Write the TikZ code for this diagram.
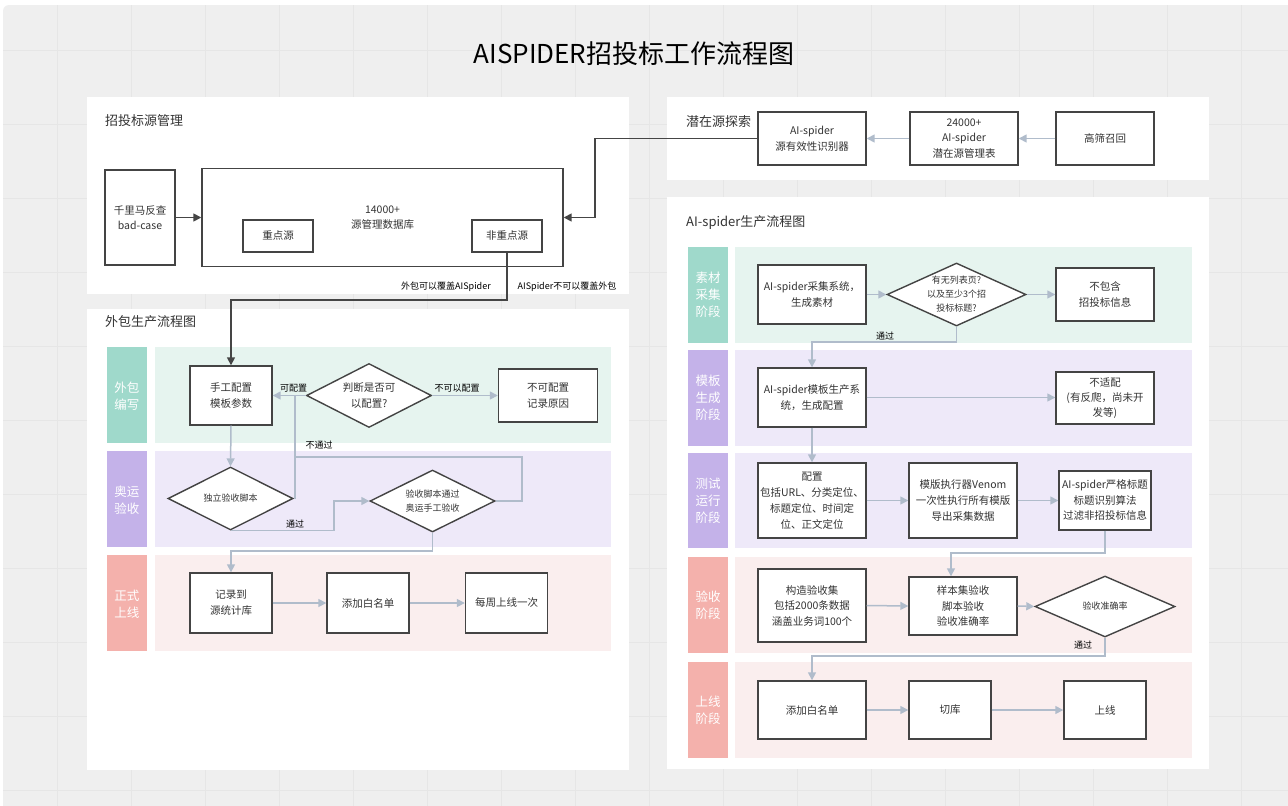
\documentclass[tikz,border=0pt]{standalone}
\usepackage{fontspec}
\setmainfont{Noto Sans CJK SC}
\usetikzlibrary{arrows.meta,shapes.geometric}
\definecolor{canvas}{HTML}{EFEFEF}
\definecolor{gridc}{HTML}{E6E6E6}
\definecolor{boxline}{HTML}{444444}
\definecolor{connc}{HTML}{B0BCCB}
\definecolor{darkc}{HTML}{454545}
\definecolor{tealL}{HTML}{9FD9CB}
\definecolor{tealB}{HTML}{E6F4EF}
\definecolor{purL}{HTML}{C4B2E9}
\definecolor{purB}{HTML}{EEE9F9}
\definecolor{pinkL}{HTML}{F4B1AC}
\definecolor{pinkB}{HTML}{FAEEEE}
\definecolor{txt}{HTML}{333333}
\newcommand\fsz[2]{\fontsize{#1}{#2}\selectfont}
\begin{document}
\begin{tikzpicture}[x=1pt,y=-1pt,
  box/.style={draw=boxline, line width=1.4pt, fill=white, align=center, inner sep=0pt, font=\fsz{10.5}{16}, text=txt},
  sz/.style 2 args={minimum width=#1, minimum height=#2},
  dia/.style={diamond, draw=boxline, line width=1.4pt, fill=white, inner sep=0pt},
  dtext/.style={align=center, font=\fsz{9}{14}, text=txt},
  dtextb/.style={align=center, font=\fsz{10.5}{16}, text=txt},
  lanelab/.style={align=center, inner sep=0pt, text=white, font=\fsz{12.5}{17}},
  laneb/.style={inner sep=0pt},
  panel/.style={fill=white},
  ptitle/.style={anchor=west, font=\fsz{13}{15}, text=txt, inner sep=0pt},
  conn/.style={draw=connc, line width=1.5pt, -{Triangle[length=8pt,width=8pt]}},
  connl/.style={draw=connc, line width=1.5pt},
  dconn/.style={draw=darkc, line width=1.6pt, -{Triangle[length=8pt,width=8pt]}},
  lab/.style={font=\fsz{9}{11}, text=black, inner sep=0pt}
]
\useasboundingbox (0,0) rectangle (1288,806);
\fill[white] (0,0) rectangle (1288,806);
\fill[canvas, rounded corners=6pt] (3,5) rectangle (1310,830);
\foreach \gx in {57,131,...,1288} \draw[gridc, line width=0.9pt] (\gx,5) -- (\gx,806);
\foreach \gy in {50,124,...,806} \draw[gridc, line width=0.9pt] (3,\gy) -- (1288,\gy);

% title
\node[font=\fsz{26}{30}, text=black, inner sep=0pt] (title) at (634,54) {AISPIDER招投标工作流程图};

% panels
\fill[panel] (87,97) rectangle (629,294);
\fill[panel] (87,309) rectangle (629,770);
\fill[panel] (667,97) rectangle (1209,180);
\fill[panel] (667,197) rectangle (1209,769);

\node[ptitle] (pt1) at (105,121) {招投标源管理};
\node[ptitle] (pt2) at (105,322) {外包生产流程图};
\node[ptitle] (pt3) at (686,122) {潜在源探索};
\node[ptitle] (pt4) at (686,223) {AI-spider生产流程图};

% left lanes
\node[laneb, fill=tealL, sz={40.5pt}{96pt}] (LL1) at (126.75,395) {};
\node[laneb, fill=purL, sz={40.5pt}{96pt}] (LL2) at (126.75,499) {};
\node[laneb, fill=pinkL, sz={40.5pt}{96pt}] (LL3) at (126.75,603) {};
\node[laneb, fill=tealB, sz={456pt}{96pt}] (LB1) at (382.5,395) {};
\node[laneb, fill=purB, sz={456pt}{96pt}] (LB2) at (382.5,499) {};
\node[laneb, fill=pinkB, sz={456pt}{96pt}] (LB3) at (382.5,603) {};
\node[lanelab] (LT1) at (126.75,396) {外包\\编写};
\node[lanelab] (LT2) at (126.75,500) {奥运\\验收};
\node[lanelab] (LT3) at (126.75,604) {正式\\上线};

% right lanes
\node[laneb, fill=tealL, sz={40pt}{96pt}] (RL1) at (708,295) {};
\node[laneb, fill=purL, sz={40pt}{96pt}] (RL2) at (708,398) {};
\node[laneb, fill=purL, sz={40pt}{95pt}] (RL3) at (708,500.5) {};
\node[laneb, fill=pinkL, sz={40pt}{96pt}] (RL4) at (708,605) {};
\node[laneb, fill=pinkL, sz={40pt}{96pt}] (RL5) at (708,710) {};
\node[laneb, fill=tealB, sz={457pt}{96pt}] (RB1) at (963.5,295) {};
\node[laneb, fill=purB, sz={457pt}{96pt}] (RB2) at (963.5,398) {};
\node[laneb, fill=purB, sz={457pt}{95pt}] (RB3) at (963.5,500.5) {};
\node[laneb, fill=pinkB, sz={457pt}{96pt}] (RB4) at (963.5,605) {};
\node[laneb, fill=pinkB, sz={457pt}{96pt}] (RB5) at (963.5,710) {};
\node[lanelab] (RT1) at (708,295) {素材\\采集\\阶段};
\node[lanelab] (RT2) at (708,398) {模板\\生成\\阶段};
\node[lanelab] (RT3) at (708,500.5) {测试\\运行\\阶段};
\node[lanelab] (RT4) at (708,605) {验收\\阶段};
\node[lanelab] (RT5) at (708,710) {上线\\阶段};

% ---- left top nodes
\node[box, sz={70pt}{95pt}, font=\fsz{10.5}{15}] (qlm) at (140,217.5) {千里马反查\\bad-case};
\node[box, sz={361pt}{98pt}, font=\fsz{10.5}{15}, fill=white] (db) at (382.5,217.5) {14000+\\源管理数据库};
\node[box, sz={70pt}{32pt}] (kz) at (278,236) {重点源};
\node[box, sz={70pt}{32pt}] (fkz) at (507,236) {非重点源};

% ---- right top nodes
\node[box, sz={108pt}{53pt}] (v1) at (812,138.5) {AI-spider\\源有效性识别器};
\node[box, sz={108pt}{53pt}, font=\fsz{10.5}{15.5}] (v2) at (964,138.5) {24000+\\AI-spider\\潜在源管理表};
\node[box, sz={98pt}{53pt}] (v3) at (1105,138.5) {高筛召回};

% ---- left flow nodes
\node[box, sz={82pt}{59pt}] (sg) at (231,395.5) {手工配置\\模板参数};
\node[dia, sz={125pt}{64pt}, label={[dtextb]center:{判断是否可\\以配置?}}] (pd) at (369,395.5) {};
\node[box, sz={99pt}{53pt}] (bk) at (548,395.5) {不可配置\\记录原因};
\node[dia, sz={125pt}{63pt}, label={[dtext]center:{独立验收脚本}}] (dl) at (230.5,498.5) {};
\node[dia, sz={125pt}{62pt}, label={[dtext]center:{验收脚本通过\\奥运手工验收}}] (ys) at (432.5,501) {};
\node[box, sz={82pt}{60pt}] (jl) at (231,603) {记录到\\源统计库};
\node[box, sz={82pt}{60pt}] (tj) at (368,603) {添加白名单};
\node[box, sz={82pt}{60pt}] (mz) at (506.5,603) {每周上线一次};

% ---- right flow nodes
\node[box, sz={108pt}{59pt}] (r1) at (812,294.5) {AI-spider采集系统，\\生成素材};
\node[dia, sz={139pt}{63pt}, label={[dtext]center:{有无列表页?\\以及至少3个招\\投标标题?}}] (rd1) at (956.5,294.5) {};
\node[box, sz={98pt}{53pt}] (r2) at (1105,294.5) {不包含\\招投标信息};
\node[box, sz={108pt}{59pt}] (r3) at (812,397.5) {AI-spider模板生产系\\统，生成配置};
\node[box, sz={98pt}{52pt}, font=\fsz{10.5}{15}] (r4) at (1105,398) {不适配\\(有反爬，尚未开\\发等)};
\node[box, sz={108pt}{75pt}] (r5) at (812,500.5) {配置\\包括URL、分类定位、\\标题定位、时间定\\位、正文定位};
\node[box, sz={108pt}{75pt}] (r6) at (963,500.5) {模版执行器Venom\\一次性执行所有模版\\导出采集数据};
\node[box, sz={92pt}{59pt}, font=\fsz{10.5}{15.5}] (r7) at (1105,500.5) {AI-spider严格标题\\标题识别算法\\过滤非招投标信息};
\node[box, sz={108pt}{73pt}, font=\fsz{10.5}{15.5}] (r8) at (812,605.5) {构造验收集\\包括2000条数据\\涵盖业务词100个};
\node[box, sz={108pt}{58pt}, font=\fsz{10.5}{15.5}] (r9) at (963,606) {样本集验收\\脚本验收\\验收准确率};
\node[dia, sz={140pt}{61pt}, label={[dtext]center:{验收准确率}}] (rd2) at (1105,606.5) {};
\node[box, sz={108pt}{58pt}] (r10) at (812,710) {添加白名单};
\node[box, sz={82pt}{58pt}] (r11) at (950,710) {切库};
\node[box, sz={82pt}{58pt}] (r12) at (1105,710) {上线};

% ---- coordinates
\coordinate (t1) at (595,138.5);
\coordinate (t2) at (507,300);
\coordinate (j1) at (295,395.5);
\coordinate (j2a) at (522,501);
\coordinate (j2b) at (522,457);
\coordinate (j2c) at (295,457);
\coordinate (j3) at (334,501);
\coordinate (j4) at (432.5,551);
\coordinate (k0) at (956.5,342);
\coordinate (k1) at (951,553);
\coordinate (k2) at (1105,656);

% ---- dark connectors
\draw[dconn] (qlm.east) -- (db.west);
\draw[dconn] (v1.west) -- (t1) |- (db.east);
\draw[dconn] (fkz.south) -- (t2) -| (sg.north);
\node[lab] (la1) at (446,287) {外包可以覆盖AISpider};
\node[lab] (la2) at (567,287) {AISpider不可以覆盖外包};

% ---- light connectors right top
\draw[conn] (v3.west) -- (v2.east);
\draw[conn] (v2.west) -- (v1.east);

% ---- left flow connectors
\draw[conn] (pd.west) -- (sg.east);
\draw[conn] (pd.east) -- (bk.west);
\draw[conn] (sg.south) -- (dl.north);
\draw[connl] (dl.east) -| (j1);
\draw[connl] (ys.east) -- (j2a) -- (j2b) -- (j2c);
\draw[conn] (dl.south) -| (j3) -- (ys.west);
\draw[conn] (ys.south) -- (j4) -| (jl.north);
\draw[conn] (jl.east) -- (tj.west);
\draw[conn] (tj.east) -- (mz.west);
\node[lab] (lb1) at (293.5,388) {可配置};
\node[lab] (lb2) at (457,388) {不可以配置};
\node[lab] (lb3) at (319,445) {不通过};
\node[lab] (lb4) at (295,524) {通过};

% ---- right flow connectors
\draw[conn] (r1.east) -- (rd1.west);
\draw[conn] (rd1.east) -- (r2.west);
\draw[conn] (rd1.south) -- (k0) -| (r3.north);
\draw[conn] (r3.east) -- (r3.east -| r4.west);
\draw[conn] (r3.south) -- (r5.north);
\draw[conn] (r5.east) -- (r6.west);
\draw[conn] (r6.east) -- (r7.west);
\draw[conn] (r7.south) |- (k1) -- (k1 |- r9.north);
\draw[conn] (r8.east) -- (r9.west);
\draw[conn] (r9.east) -- (rd2.west);
\draw[conn] (rd2.south) -- (k2) -| (r10.north);
\draw[conn] (r10.east) -- (r11.west);
\draw[conn] (r11.east) -- (r12.west);
\node[lab] (lc1) at (885,336) {通过};
\node[lab] (lc2) at (1083,645) {通过};
\end{tikzpicture}
\end{document}
